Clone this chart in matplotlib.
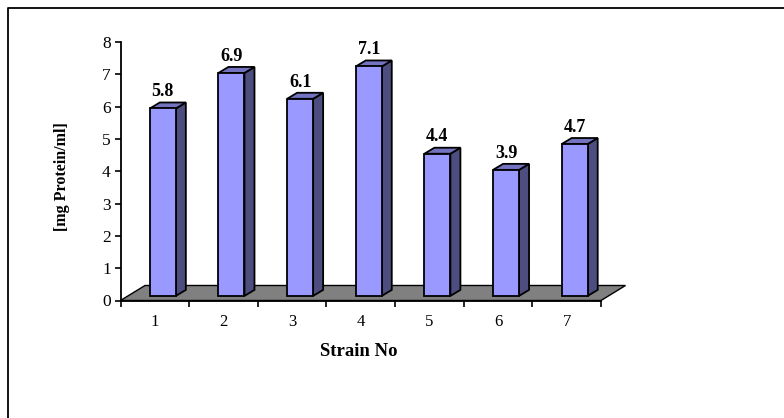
import matplotlib
matplotlib.use("Agg")
import matplotlib.pyplot as plt
from matplotlib.patches import Polygon, Rectangle
from matplotlib.lines import Line2D

strains = ["1", "2", "3", "4", "5", "6", "7"]
protein = [5.8, 6.9, 6.1, 7.1, 4.4, 3.9, 4.7]
labels = ["5.8", "6.9", "6.1", "7.1", "4.4", "3.9", "4.7"]
yticks = [0, 1, 2, 3, 4, 5, 6, 7, 8]

W, H = 784, 418
plt.rcParams["font.family"] = ["Liberation Serif", "DejaVu Serif"]

fig = plt.figure(figsize=(W / 100, H / 100), dpi=100)
ax = fig.add_axes([120.5 / W, 1 - 300.5 / H, 480.5 / W, 258.5 / H])
ax.set_xlim(0, 7)
ax.set_ylim(0, 8)
ax.patch.set_alpha(0)

# 3d look: depth of floor and bars in data units
floor_dx = 24.5 / 68.6
floor_dy = 15 / 32.3
bar_dx = 10 / 68.6
bar_dy = 6 / 32.3
bar_w = 26 / 68.6
shift = 8 / 68.6
lift = 4.6 / 32.3

ax.add_patch(Polygon([(0, 0), (floor_dx, floor_dy), (7 + floor_dx, floor_dy), (7, 0)],
                     closed=True, fc="#808080", ec="black", lw=1, clip_on=False, zorder=1))

for i, v in enumerate(protein):
    x0 = i + 0.5 + shift - bar_w / 2
    x1 = x0 + bar_w
    y0 = lift
    y1 = lift + v
    side = [(x1, y0), (x1 + bar_dx, y0 + bar_dy), (x1 + bar_dx, y1 + bar_dy), (x1, y1)]
    top = [(x0, y1), (x0 + bar_dx, y1 + bar_dy), (x1 + bar_dx, y1 + bar_dy), (x1, y1)]
    ax.add_patch(Polygon(side, closed=True, fc="#4d4d80", ec="black", lw=1.3, clip_on=False, zorder=2))
    ax.add_patch(Polygon(top, closed=True, fc="#7373bf", ec="black", lw=1.3, clip_on=False, zorder=2))
    ax.add_patch(Rectangle((x0, y0), bar_w, v, fc="#9999ff", ec="black", lw=1.3, clip_on=False, zorder=3))
    ax.text(i + 0.5 + shift, y1 + bar_dy + 0.07, labels[i], ha="center", va="bottom",
            fontsize=13, fontweight="bold", color="black", zorder=4)

for s in ["top", "right"]:
    ax.spines[s].set_visible(False)
ax.spines["left"].set_linewidth(1.3)
ax.spines["bottom"].set_linewidth(1.3)

ax.set_xticks(range(8))
ax.set_xticklabels([""] * 8)
ax.tick_params(axis="x", length=4, width=1.2, direction="out")
ax.set_xticks([i + 0.5 for i in range(7)], minor=True)
ax.set_xticklabels(strains, minor=True)
ax.tick_params(axis="x", which="minor", length=0, pad=10, labelsize=12)
ax.set_yticks(yticks)
ax.tick_params(axis="y", length=4, width=1.2, direction="out", pad=3, labelsize=12.5)

fig.text(359 / W, 1 - 351 / H, "Strain No", ha="center", va="center",
         fontsize=13.5, fontweight="bold")
fig.text(62 / W, 1 - 177 / H, "[mg Protein/ml]", ha="center", va="center", rotation=90,
         fontsize=11.5, fontweight="bold")

# outer chart frame: only top and left edges show in the picture
fig.add_artist(Line2D([7.5 / W, 7.5 / W, 1], [0, 1 - 8 / H, 1 - 8 / H], transform=fig.transFigure,
                      color="black", lw=1.3))

fig.savefig("out.png", dpi=100)
